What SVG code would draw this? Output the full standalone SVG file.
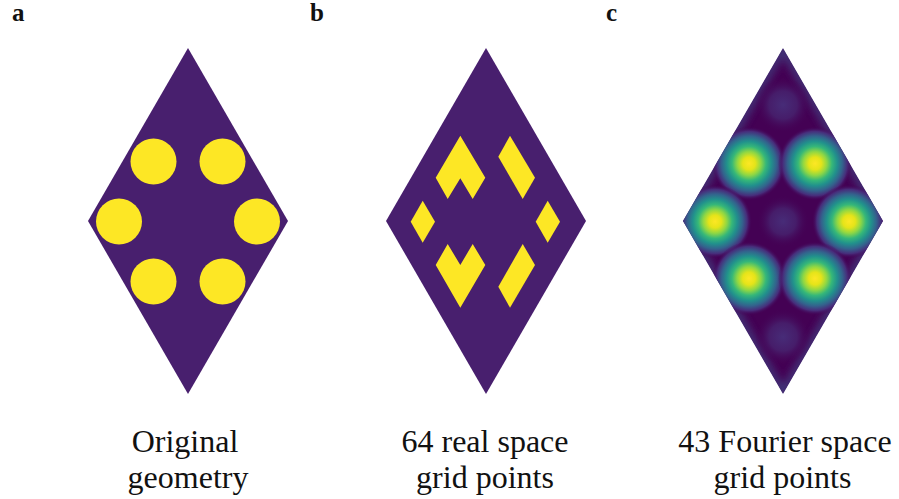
<svg xmlns="http://www.w3.org/2000/svg" width="899" height="499" viewBox="0 0 899 499">
<style>
.bg{fill:#481f6e}
.fg{fill:#fde725}
.lbl{font-family:'Liberation Serif','Times New Roman','DejaVu Serif',serif;font-size:32px;fill:#111;text-anchor:middle}
.pl{font-family:'Liberation Serif','Times New Roman','DejaVu Serif',serif;font-size:25px;font-weight:bold;fill:#111}
</style>
<defs>
<radialGradient id="blob" cx="0.5" cy="0.5" r="0.5">
<stop offset="0" stop-color="#fde725"/>
<stop offset="0.17" stop-color="#e5e419"/>
<stop offset="0.32" stop-color="#8fd744"/>
<stop offset="0.46" stop-color="#35b779"/>
<stop offset="0.6" stop-color="#21918c"/>
<stop offset="0.74" stop-color="#33638d"/>
<stop offset="0.87" stop-color="#472d7b"/>
<stop offset="1" stop-color="#440154" stop-opacity="0"/>
</radialGradient>
<radialGradient id="faint" cx="0.5" cy="0.5" r="0.5">
<stop offset="0" stop-color="#472c78"/>
<stop offset="0.5" stop-color="#461d6a"/>
<stop offset="1" stop-color="#440154" stop-opacity="0"/>
</radialGradient>
<clipPath id="clipc"><polygon points="783,48 883,221 783,394 683,221"/></clipPath>
<filter id="blur" x="-20%" y="-20%" width="140%" height="140%"><feGaussianBlur stdDeviation="4"/></filter>
</defs>

<text class="pl" x="12" y="21">a</text>
<text class="pl" x="310" y="21">b</text>
<text class="pl" x="606" y="21">c</text>

<g id="panel-a">
<polygon class="bg" points="188,48 288,221 188,394 88,221"/>
<circle class="fg" cx="153.5" cy="161.5" r="23"/>
<circle class="fg" cx="222.5" cy="161.5" r="23"/>
<circle class="fg" cx="119" cy="221.5" r="23"/>
<circle class="fg" cx="257" cy="221.5" r="23"/>
<circle class="fg" cx="153.5" cy="281.5" r="23"/>
<circle class="fg" cx="222.5" cy="281.5" r="23"/>
</g>

<g id="panel-b">
<polygon class="bg" points="486,48 586,221 486,394 386,221"/>
<polygon class="fg" points="460.3,135.7 485.3,177.7 472.7,199 460.3,178.3 447.7,199 435.7,177.7"/>
<polygon class="fg" points="510,135.7 498.3,156.7 522.7,199 535,177.7"/>
<polygon class="fg" points="422.7,200.7 435,221.7 422.7,242.7 410.7,221.7"/>
<polygon class="fg" points="547.7,200.7 560,221.7 547.7,242.7 535.7,221.7"/>
<polygon class="fg" points="447.7,244 460.3,265 472.7,244 485.3,265 460.3,307.7 435.7,265"/>
<polygon class="fg" points="522.7,244 535,265 510,307.7 498.3,286.7"/>
</g>

<g id="panel-c">
<g clip-path="url(#clipc)">
<polygon points="783,48 883,221 783,394 683,221" fill="#440154"/>
<polygon points="783,48 883,221 783,394 683,221" fill="none" stroke="#433f80" stroke-width="8" opacity="0.9" filter="url(#blur)"/>
<circle cx="783" cy="221.5" r="26" fill="url(#faint)"/>
<circle cx="783" cy="105" r="28" fill="url(#faint)"/>
<circle cx="783" cy="337" r="28" fill="url(#faint)"/>
<circle cx="749" cy="163.5" r="37" fill="url(#blob)"/>
<circle cx="815" cy="163.5" r="37" fill="url(#blob)"/>
<circle cx="715" cy="221.5" r="37" fill="url(#blob)"/>
<circle cx="849" cy="221.5" r="37" fill="url(#blob)"/>
<circle cx="749" cy="278.5" r="37" fill="url(#blob)"/>
<circle cx="815" cy="278.5" r="37" fill="url(#blob)"/>
</g>
</g>

<g id="labels">
<text class="lbl" x="185" y="452">Original</text>
<text class="lbl" x="188" y="488">geometry</text>
<text class="lbl" x="485" y="452">64 real space</text>
<text class="lbl" x="485" y="488">grid points</text>
<text class="lbl" x="785" y="452">43 Fourier space</text>
<text class="lbl" x="782.5" y="488">grid points</text>
</g>
</svg>
